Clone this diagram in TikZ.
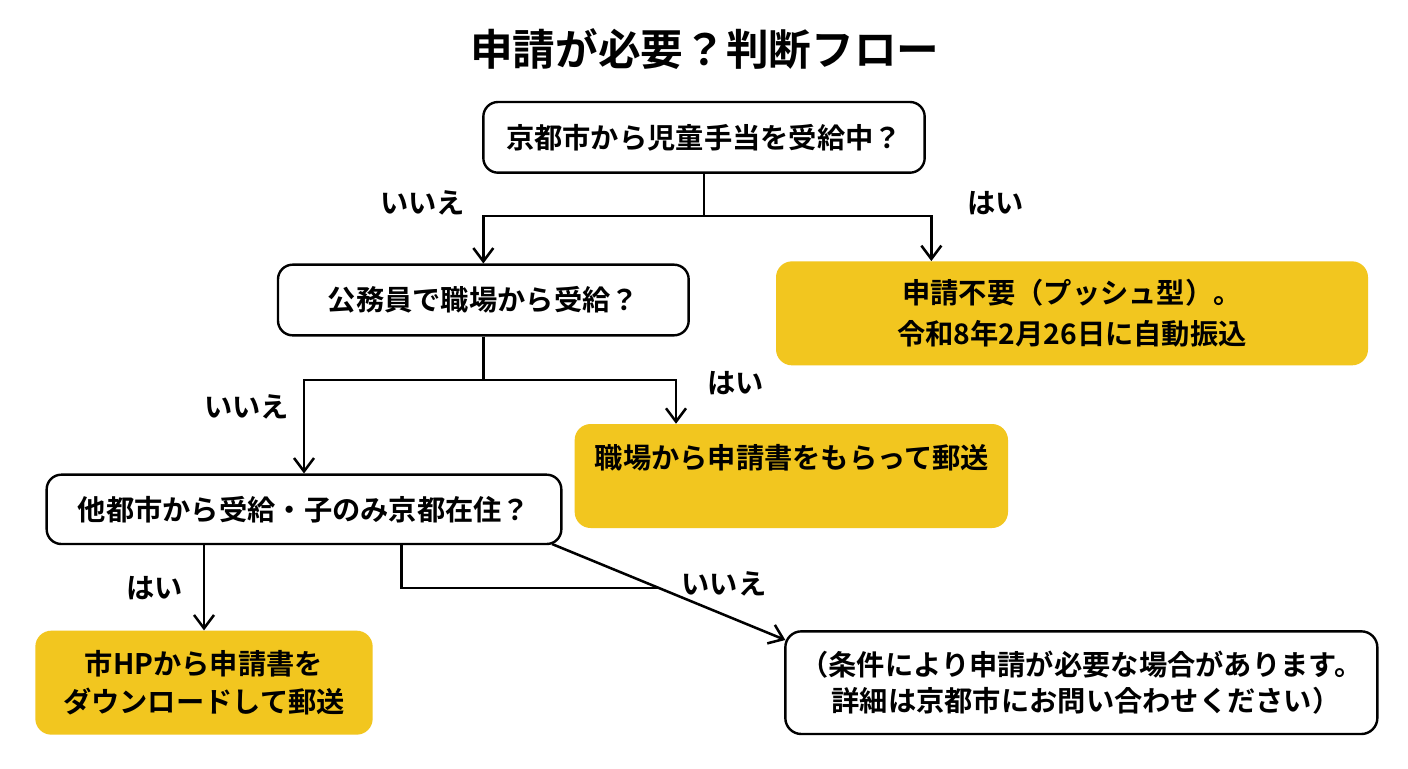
\documentclass[tikz,border=0pt]{standalone}
\usepackage{fontspec}
\setmainfont{Noto Sans CJK JP}[BoldFont={* Bold}]
\usetikzlibrary{arrows.meta}
\definecolor{boxyellow}{HTML}{F2C61F}
\tikzset{
  question/.style={draw, rounded corners=11pt, line width=1.8pt, fill=white, align=center, inner sep=0pt, font=\bfseries\fontsize{21.2}{28}\selectfont},
  answer/.style={fill=boxyellow, rounded corners=12pt, align=center, inner sep=0pt, font=\bfseries\fontsize{21.2}{28.5}\selectfont},
  branch/.style={font=\bfseries\fontsize{21.2}{24}\selectfont, inner sep=0pt},
  trunk/.style={line width=1.9pt},
  link/.style={->, >={Straight Barb[length=10pt,width=15pt]}, line width=1.9pt}
}
\begin{document}
\begin{tikzpicture}[x=1pt, y=-1pt]
    \useasboundingbox[fill=white] (0,0) rectangle (1056,576);
    \node[font=\bfseries\fontsize{32}{36}\selectfont] at (528.5,37) (title) {申請が必要？判断フロー};

    \node[question, minimum width=331pt, minimum height=53pt] at (528,103) (Q1) {京都市から児童手当を受給中？};
    \node[question, minimum width=308pt, minimum height=53pt] at (362.5,225) (Q2) {公務員で職場から受給？};
    \node[question, minimum width=386pt, minimum height=52pt] at (228,382) (Q3) {他都市から受給・子のみ京都在住？};

    \node[answer, minimum width=444pt, minimum height=78pt, font=\bfseries\fontsize{21.2}{30.5}\selectfont] at (804,235) (A1) {申請不要（プッシュ型）。\\令和8年2月26日に自動振込};
    \node[answer, minimum width=325pt, minimum height=78pt] at (593.5,357) (A2) {};
    \node[branch] at (594,343) (A2text) {職場から申請書をもらって郵送};
    \node[answer, minimum width=253pt, minimum height=78pt] at (153,512) (A3) {市HPから申請書を\\ダウンロードして郵送};
    \node[question, minimum width=444pt, minimum height=77pt, rounded corners=12pt, font=\bfseries\fontsize{21.2}{27.5}\selectfont] at (811,512) (A4) {（条件により申請が必要な場合があります。\\\hspace*{7pt}詳細は京都市にお問い合わせください）};

    \coordinate (J1) at (Q1.south |- 0,162);
    \coordinate (L1) at (362.5,162);
    \coordinate (R1) at (698.5,162);
    \draw[trunk] (Q1.south) -- (J1);
    \draw[link] (J1) -- (L1) -- (Q2.north -| L1);
    \draw[link] (J1) -- (R1) -- (R1 |- A1.north);

    \coordinate (J2) at (Q2.south |- 0,285);
    \coordinate (L2) at (228,285);
    \coordinate (R2) at (507,285);
    \draw[trunk] (Q2.south) -- (J2);
    \draw[link] (J2) -- (L2) -- (Q3.north -| L2);
    \draw[link] (J2) -- (R2) -- (R2 |- A2.north);

    \coordinate (S3) at (153,408);
    \draw[link] (S3) -- (S3 |- A3.north);
    \coordinate (T3) at (301,408);
    \coordinate (K3) at (301,441);
    \coordinate (M3) at (495,441);
    \draw[trunk] (T3) -- (K3) -- (M3);
    \coordinate (D3) at (414,408);
    \coordinate (E3) at (589,480);
    \draw[link] (D3) -- (E3);

    \node[branch] at (317,152) (no1) {いいえ};
    \node[branch] at (746.5,152) (yes1) {はい};
    \node[branch] at (185,305.5) (no2) {いいえ};
    \node[branch] at (551.5,287.5) (yes2) {はい};
    \node[branch] at (116,441) (yes3) {はい};
    \node[branch] at (543,438) (no3) {いいえ};
\end{tikzpicture}
\end{document}
